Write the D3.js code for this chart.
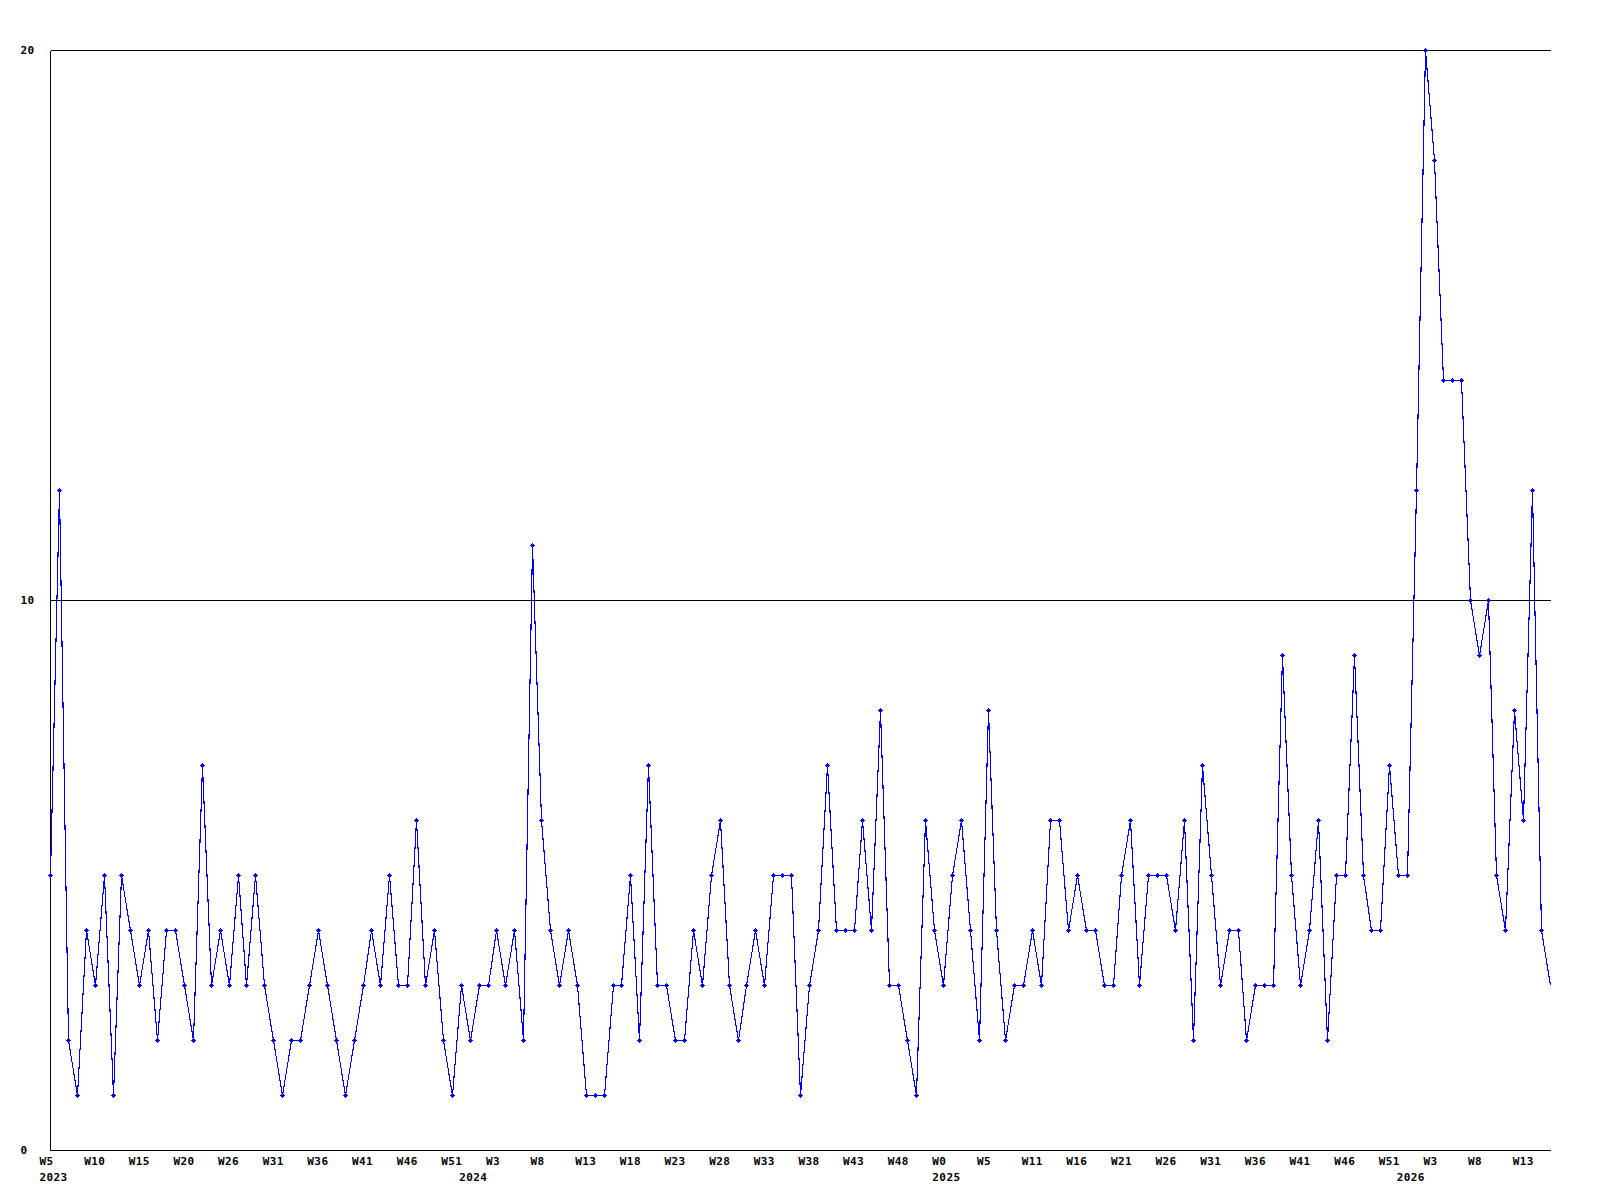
<!DOCTYPE html>
<html>
<head>
<meta charset="utf-8">
<script src="https://cdn.jsdelivr.net/npm/d3@7"></script>
<style>
  html, body { margin: 0; padding: 0; background: #ffffff; }
  svg { display: block; }
  text { font-family: "DejaVu Sans Mono", "Liberation Mono", monospace; font-weight: bold; font-size: 11px; letter-spacing: 0.4px; fill: #000; }
</style>
</head>
<body>
<script>
// ---- data ----
const values = [
  5,12,2,1,4,3,5,1,5,4,3,4,2,4,4,3,2,7,3,
  4,3,5,3,5,3,2,1,2,2,3,4,3,2,1,2,3,4,3,5,3,
  3,6,3,4,2,1,3,2,3,3,4,3,4,2,11,6,4,3,4,3,1,
  1,1,3,3,5,2,7,3,3,2,2,4,3,5,6,3,2,3,4,3,5,
  5,5,1,3,4,7,4,4,4,6,4,8,3,3,2,1,6,4,3,5,6,4,
  2,8,4,2,3,3,4,3,6,6,4,5,4,4,3,3,5,6,3,5,5,
  5,4,6,2,7,5,3,4,4,2,3,3,3,9,5,3,4,6,2,5,5,
  9,5,4,4,7,5,5,12,20,18,14,14,14,10,9,10,5,4,8,6,12,4,3
];
const weekLabels = [
  "W5","W10","W15","W20","W26","W31","W36","W41","W46","W51",
  "W3","W8","W13","W18","W23","W28","W33","W38","W43","W48",
  "W0","W5","W11","W16","W21","W26","W31","W36","W41","W46",
  "W51","W3","W8","W13"
];
const weekLabelStep = 5;
const yearLabels = ["2023","2024","2025","2026"];
const yearLabelIndex = [0, 47, 100, 152];
const yTicks = [0, 10, 20];

(function () {
  // ---- layout ----
  const W = 1600, H = 1200;
  const mLeft = 50, mRight = 1550, mTop = 50, mBottom = 1150;

  const svg = d3.select("body").append("svg")
    .attr("width", W).attr("height", H)
    .attr("viewBox", `0 0 ${W} ${H}`);
  svg.append("rect").attr("width", W).attr("height", H).attr("fill", "#fff");

  const x = d3.scaleLinear().domain([0, values.length - 1]).range([mLeft, mRight]);
  const y = d3.scaleLinear().domain([0, 20]).range([mBottom, mTop]);
  const px = i => Math.round(x(i)) + 0.5;
  const py = v => Math.round(y(v)) + 0.5;

  // gridlines (10, 20)
  svg.append("g").selectAll("line").data(yTicks.filter(d => d > 0)).join("line")
    .attr("x1", mLeft + 0.5).attr("x2", mRight + 1)
    .attr("y1", d => py(d)).attr("y2", d => py(d))
    .attr("stroke", "#000").attr("stroke-width", 1)
    .attr("shape-rendering", "crispEdges");

  // axis lines
  svg.append("line").attr("x1", mLeft + 0.5).attr("x2", mLeft + 0.5)
    .attr("y1", py(20)).attr("y2", py(0))
    .attr("stroke", "#000").attr("shape-rendering", "crispEdges");
  svg.append("line").attr("x1", mLeft + 0.5).attr("x2", mRight + 1)
    .attr("y1", py(0)).attr("y2", py(0))
    .attr("stroke", "#000").attr("shape-rendering", "crispEdges");

  // y labels
  svg.append("g").selectAll("text").data(yTicks).join("text")
    .attr("x", 20.5).attr("y", d => y(d))
    .attr("dominant-baseline", "central")
    .text(d => d);

  // x week labels
  svg.append("g").selectAll("text").data(weekLabels).join("text")
    .attr("x", (d, i) => x(i * weekLabelStep) - 10.5)
    .attr("y", mBottom + 15)
    .text(d => d);

  // year labels
  svg.append("g").selectAll("text").data(yearLabels).join("text")
    .attr("x", (d, i) => x(yearLabelIndex[i]) - 10.5)
    .attr("y", mBottom + 30.5)
    .text(d => d);

  // series line
  const line = d3.line().x((d, i) => px(i)).y(d => py(d));
  svg.append("path").datum(values)
    .attr("d", line)
    .attr("fill", "none")
    .attr("stroke", "#0000ff")
    .attr("stroke-width", 1.1)
    .attr("shape-rendering", "crispEdges");

  // markers (small plus); last (partial) point drawn without marker
  const marker = "M-2.5,-0.5h5v1h-5z M-0.5,-2.5h1v5h-1z M-1.5,-1.5h3v3h-3z";
  svg.append("g").selectAll("path").data(values.slice(0, values.length - 1)).join("path")
    .attr("transform", (d, i) => `translate(${Math.round(x(i)) + 0.5},${Math.round(y(d)) + 0.5})`)
    .attr("d", marker)
    .attr("fill", "#0000ff")
    .attr("shape-rendering", "crispEdges");
})();
</script>
</body>
</html>
